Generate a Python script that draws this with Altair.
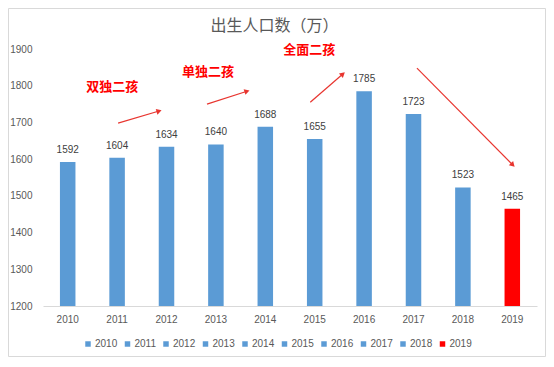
import math
import altair as alt
import pandas as pd

# ---- data ----
title_text = ["出生人口数（万）"]
years = ["2010", "2011", "2012", "2013", "2014", "2015", "2016", "2017", "2018", "2019"]
births = [1592, 1604, 1634, 1640, 1688, 1655, 1785, 1723, 1523, 1465]
bar_colors = ["#5B9BD5"] * 9 + ["#FF0000"]

notes = ["双独二孩", "单独二孩", "全面二孩"]
note_x = [1.40, 3.34, 5.39]          # in "year slots" (0 = left edge, 10 = right edge)
note_y = [1796, 1837, 1897]

arrow_x = [1.52, 3.32, 5.41, 7.57]
arrow_y = [1698, 1750, 1755, 1848]
arrow_x2 = [2.35, 4.13, 6.07, 9.51]
arrow_y2 = [1731, 1785, 1832, 1584]

y_ticks = [1200, 1300, 1400, 1500, 1600, 1700, 1800, 1900]

# ---- layout ----
W, H = 494, 257
PAD = {"left": 35, "top": 41, "right": 9, "bottom": 51}
FONT = "Liberation Sans"
CJK = "Noto Sans CJK SC"

df = pd.DataFrame({"year": years, "births": births})

# arrowhead angles in screen space
angles = []
for x1, y1, x2, y2 in zip(arrow_x, arrow_y, arrow_x2, arrow_y2):
    dx = (x2 - x1) * W / 10
    dy = -(y2 - y1) * H / 700
    angles.append(math.degrees(math.atan2(dx, -dy)) % 360)
arrows = pd.DataFrame({"x": arrow_x, "y": arrow_y, "x2": arrow_x2, "y2": arrow_y2, "angle": angles})
notes_df = pd.DataFrame({"text": notes, "x": note_x, "y": note_y})

yscale = alt.Scale(domain=[1200, 1900], zero=False, nice=False)
yaxis = alt.Axis(
    title=None, values=y_ticks, tickCount=8, format="d", labelOverlap=False,
    grid=False, ticks=False, domain=False,
    labelPadding=11, labelFont=FONT, labelFontSize=10, labelColor="#595959",
)
qx = alt.Scale(domain=[0, 10], nice=False, zero=False)
band = alt.Scale(paddingInner=0.686, paddingOuter=0.343)

border = alt.Chart(pd.DataFrame({"a": [0]})).mark_rect(
    fill=None, stroke="#d9d9d9", strokeWidth=1
).encode(
    x=alt.value(-PAD["left"] + 0.5),
    x2=alt.value(W + PAD["right"] - 0.5),
    y=alt.value(-PAD["top"] + 0.5),
    y2=alt.value(H + PAD["bottom"] - 0.5),
)

title = alt.Chart(pd.DataFrame({"t": title_text})).mark_text(
    font=CJK, fontSize=16, fontWeight="normal", color="#595959",
    align="center", baseline="bottom",
).encode(
    x=alt.value(231.5),
    y=alt.value(-15),
    text="t:N",
)

xband = alt.X(
    "year:O",
    scale=band,
    axis=alt.Axis(
        title=None, labelAngle=0, ticks=False, domainColor="#d9d9d9",
        labelPadding=8, labelFont=FONT, labelFontSize=10, labelColor="#595959",
    ),
)

bars = alt.Chart(df).mark_bar().encode(
    x=xband,
    y=alt.Y("births:Q", scale=yscale, axis=yaxis),
    y2=alt.datum(1200),
    color=alt.Color(
        "year:N",
        scale=alt.Scale(domain=years, range=bar_colors),
        legend=alt.Legend(
            title=None, orient="none", legendX=40, legendY=290,
            direction="horizontal", columns=10, symbolType="square",
            symbolSize=30, symbolStrokeWidth=0, labelOffset=2, columnPadding=4.5,
            labelFont=FONT, labelFontSize=10, labelColor="#595959",
        ),
    ),
)

labels = alt.Chart(df).mark_text(
    baseline="bottom", dy=-7, font=FONT, fontSize=10, color="#404040"
).encode(
    x=xband,
    y=alt.Y("births:Q", scale=yscale, axis=yaxis),
    text="births:Q",
)

arrow_lines = alt.Chart(arrows).mark_rule(color="#E8352F", strokeWidth=1.2).encode(
    x=alt.X("x:Q", scale=qx, axis=None),
    x2="x2:Q",
    y=alt.Y("y:Q", scale=yscale, axis=yaxis),
    y2="y2:Q",
)

arrow_heads = alt.Chart(arrows).mark_point(
    shape="triangle-up", filled=True, color="#E8352F", size=36, opacity=1
).encode(
    x=alt.X("x2:Q", scale=qx, axis=None),
    y=alt.Y("y2:Q", scale=yscale, axis=yaxis),
    angle=alt.Angle("angle:Q", scale=None),
)

note_text = alt.Chart(notes_df).mark_text(
    font=CJK, fontSize=13, fontWeight="bold", color="#FF0000"
).encode(
    x=alt.X("x:Q", scale=qx, axis=None),
    y=alt.Y("y:Q", scale=yscale, axis=yaxis),
    text="text:N",
)

base = alt.layer(bars, labels).resolve_scale(x="shared")
ann = alt.layer(arrow_lines, arrow_heads, note_text)

chart = alt.layer(border, title, base, ann).resolve_scale(x="independent").properties(
    width=W,
    height=H,
    padding=PAD,
    autosize=alt.AutoSizeParams(type="none"),
).configure_view(stroke=None)

chart.save("out.html", embed_options={"renderer": "svg", "actions": False})
